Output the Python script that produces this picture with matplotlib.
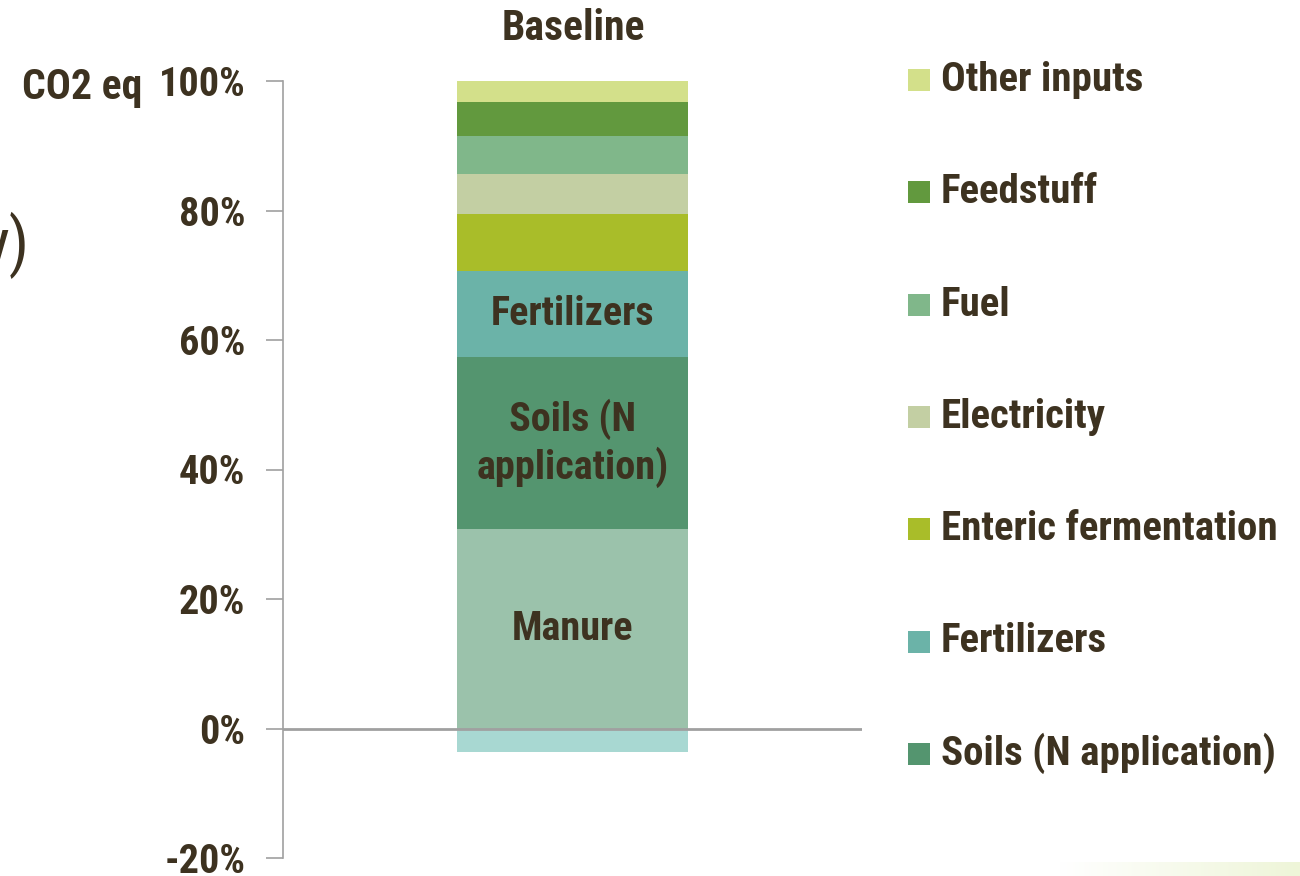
import matplotlib
matplotlib.use("Agg")
import matplotlib.pyplot as plt
import numpy as np
from matplotlib.patches import Rectangle

plt.rcParams['font.family'] = ['Roboto Condensed', 'Barlow Semi Condensed', 'DejaVu Sans']
plt.rcParams['font.stretch'] = 'condensed'

category = ["Baseline"]
# stacked bottom-up
segments = ["Manure", "Soils (N application)", "Fertilizers", "Enteric fermentation",
            "Electricity", "Fuel", "Feedstuff", "Other inputs"]
values = [30.8, 26.6, 13.3, 8.75, 6.2, 5.9, 5.25, 3.2]
colors = ["#9bc2ab", "#54956f", "#6bb3a8", "#a9bd29", "#c3cfa3", "#80b78a", "#62993e", "#d3e08a"]
neg_value = -3.6
neg_color = "#a8d8d2"
bar_labels = {"Manure": "Manure", "Soils (N application)": "Soils (N\napplication)",
              "Fertilizers": "Fertilizers"}
legend_items = ["Other inputs", "Feedstuff", "Fuel", "Electricity",
                "Enteric fermentation", "Fertilizers", "Soils (N application)"]
yticks = [-20, 0, 20, 40, 60, 80, 100]
ytick_labels = ["-20%", "0%", "20%", "40%", "60%", "80%", "100%"]

TXT = "#3d3220"
AX = "#a0a0a0"

fig = plt.figure(figsize=(13, 8.76), dpi=100)
ax = fig.add_axes([283/1300, 1-858/876, (862-283)/1300, (858-81)/876])
ax.set_xlim(-0.5, 0.5)
ax.set_ylim(-20, 100)

bottom = 0
for name, v, c in zip(segments, values, colors):
    ax.bar(0, v, width=0.4, bottom=bottom, color=c, linewidth=0, zorder=2)
    if name in bar_labels:
        ax.text(0, bottom + v/2, bar_labels[name], ha='center', va='center',
                fontsize=29, fontweight='bold', color=TXT, zorder=4, linespacing=1.2)
    bottom += v
ax.bar(0, neg_value, width=0.4, bottom=0, color=neg_color, linewidth=0, zorder=2)
ax.axhline(0, color=AX, linewidth=2, zorder=3)

for s in ['top', 'right', 'bottom']:
    ax.spines[s].set_visible(False)
ax.spines['left'].set_color(AX)
ax.spines['left'].set_linewidth(1.2)
ax.set_xticks([])
ax.set_yticks(yticks)
ax.set_yticklabels(ytick_labels)
ax.tick_params(axis='y', direction='out', length=12, width=1.2, color=AX, pad=15,
               labelsize=29, labelcolor=TXT)
for lab in ax.get_yticklabels():
    lab.set_fontweight('bold')
ax.patch.set_alpha(0)

fig.text(573/1300, 1-29/876, category[0], ha='center', va='center', fontsize=30,
         fontweight='bold', color=TXT)
fig.text(22/1300, 1-87/876, "CO2 eq", ha='left', va='center', fontsize=30,
         fontweight='bold', color=TXT)
fig.text(30/1300, 1-245/876, "y)", ha='right', va='center', fontsize=46, color=TXT)

# manual legend
cmap = dict(zip(segments, colors))
y0 = 80
for i, name in enumerate(legend_items):
    yc = y0 + i*112.3
    fig.add_artist(Rectangle((908/1300, 1-(yc+11)/876), 22/1300, 22/876,
                             transform=fig.transFigure, color=cmap[name], linewidth=0))
    fig.text(941/1300, 1-yc/876, name, ha='left', va='center', fontsize=29.5,
             fontweight='bold', color=TXT)

# faint decorative gradient bottom right
grad = np.linspace(0, 1, 256).reshape(1, -1)
gax = fig.add_axes([1060/1300, 0, 240/1300, 14/876])
gax.imshow(grad, aspect='auto', cmap=matplotlib.colors.LinearSegmentedColormap.from_list(
    "g", ["#ffffff", "#eef5d8"]))
gax.axis('off')

fig.savefig("out.png", dpi=100)
